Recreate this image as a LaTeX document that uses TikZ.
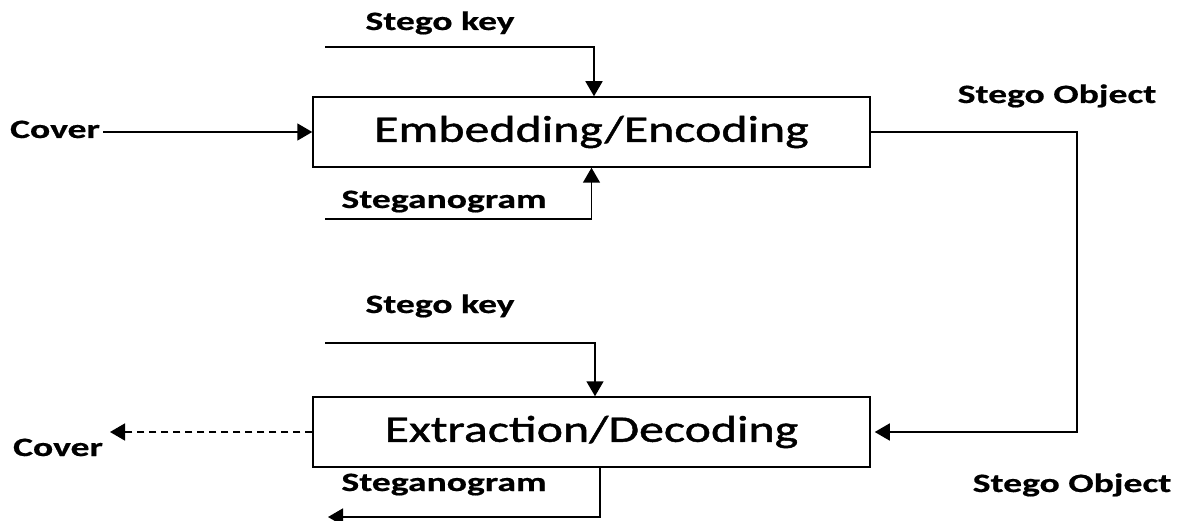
\documentclass[tikz,border=0pt]{standalone}
\usepackage{fontspec}
\usetikzlibrary{positioning,arrows.meta}
\newfontfamily\labelfont[FakeStretch=1.42, FakeBold=0.6]{Carlito}
\newfontfamily\blockfont[FakeStretch=1.33, FakeBold=1.2]{Carlito}
\tikzstyle{BlockNode}=[rectangle, draw=black, line width=1.5pt, minimum width=557pt, minimum height=70pt, font=\blockfont\fontsize{37.5}{44}\selectfont]
\tikzstyle{LabelNode}=[anchor=base, inner sep=0pt, font=\labelfont\bfseries\fontsize{26.5}{30}\selectfont]
\tikzstyle{Flow}=[line width=1.6pt, -{Triangle[length=15pt,width=17pt]}]

\begin{document}
\begin{tikzpicture}[x=1pt, y=-1pt]
    \useasboundingbox (0,0) rectangle (1188,521);

    \node (embed) [BlockNode] at (591.5,132) {Embedding/Encoding};
    \node (extract) [BlockNode] at (591.5,432) {Extraction/Decoding};

    % embedding side
    \node (keyA) [LabelNode] at (440,30) {Stego key};
    \node (coverA) [LabelNode] at (55,138) {Cover};
    \node (stegA) [LabelNode] at (444,208) {Steganogram};
    \node (objA) [LabelNode] at (1057,103) {Stego Object};
    \coordinate (keyinA) at (325,47);
    \coordinate (coverinA) at (103,132);
    \coordinate (steginA) at (325,219);

    % extraction side
    \node (keyB) [LabelNode] at (440,313) {Stego key};
    \node (coverB) [LabelNode] at (58,456) {Cover};
    \node (stegB) [LabelNode] at (444,491) {Steganogram};
    \node (objB) [LabelNode] at (1072,492) {Stego Object};
    \coordinate (keyinB) at (325,343);
    \coordinate (coveroutB) at (110,432);
    \coordinate (stegoutB) at (328,517);
    \coordinate (corner) at (1077,282);

    \draw [Flow] (keyinA) -| ([xshift=2.5pt]embed.north);
    \draw [Flow] (coverinA) -- (embed.west);
    \draw [Flow] (steginA) -| (embed.south);
    \draw [Flow, shorten >=4pt] (embed.east) -| (corner) |- (extract.east);
    \draw [Flow] (keyinB) -| ([xshift=3.5pt]extract.north);
    \draw [Flow, dash pattern=on 7pt off 5pt] (extract.west) -- (coveroutB);
    \draw [Flow] ([xshift=8.5pt]extract.south) |- (stegoutB);
\end{tikzpicture}
\end{document}
